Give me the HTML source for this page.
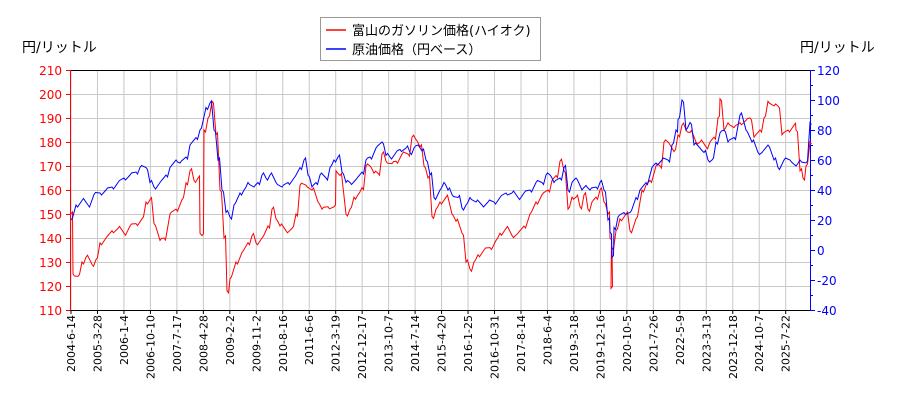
<!DOCTYPE html>
<html><head><meta charset="utf-8"><style>
body{margin:0;background:#fff;width:900px;height:400px;overflow:hidden}
text{font-family:"DejaVu Sans","Noto Sans CJK JP",sans-serif}
</style></head><body>
<svg id="s" width="900" height="400" xmlns="http://www.w3.org/2000/svg">
<g id="grid" stroke="#c8c8c8" stroke-width="1"></g>
<rect x="70.5" y="70.5" width="740" height="240" fill="none" stroke="#000"/>
<line x1="70.5" y1="70" x2="70.5" y2="311" stroke="red"/>
<line x1="810.5" y1="70" x2="810.5" y2="311" stroke="blue"/>
<g id="ax"></g>
<polyline id="red" fill="none" stroke="red" stroke-width="1"/>
<polyline id="blue" fill="none" stroke="blue" stroke-width="1"/>
<text x="22" y="52" font-size="14">円/リットル</text>
<text x="800" y="52" font-size="14">円/リットル</text>
<rect x="320.5" y="17.5" width="220" height="43" fill="#fff" stroke="#999"/>
<line x1="326" y1="30" x2="346" y2="30" stroke="red" stroke-width="1.5"/>
<line x1="326" y1="49" x2="346" y2="49" stroke="blue" stroke-width="1.5"/>
<text x="352" y="35" font-size="13">富山のガソリン価格(ハイオク)</text>
<text x="352" y="54" font-size="13">原油価格（円ベース）</text>
</svg>
<script>
const NS="http://www.w3.org/2000/svg";
function el(p,t,a,txt){const e=document.createElementNS(NS,t);for(const k in a)e.setAttribute(k,a[k]);if(txt!==undefined)e.textContent=String(txt);document.getElementById(p).appendChild(e);}
const labels=["2004-6-14","2005-3-28","2006-1-4","2006-10-10","2007-7-17","2008-4-28","2009-2-2","2009-11-2","2010-8-16","2011-6-6","2012-3-19","2012-12-17","2013-10-7","2014-7-14","2015-4-20","2016-1-25","2016-10-31","2017-8-14","2018-6-4","2019-3-18","2019-12-16","2020-10-5","2021-7-26","2022-5-9","2023-3-13","2023-12-18","2024-10-7","2025-7-22"];
labels.forEach((l,i)=>{const x=71+i*26.47;
 el("grid","line",{x1:x,y1:70,x2:x,y2:310});
 el("ax","line",{x1:x,y1:310,x2:x,y2:314,stroke:"#000"});
 el("ax","text",{x:0,y:0,"font-size":"11",transform:`translate(${x+4},${315}) rotate(-90)`,"text-anchor":"end"},l);});
for(let i=0;i<=10;i++){const y=310-i*24;
 el("grid","line",{x1:70,y1:y+0.5,x2:810,y2:y+0.5});
 el("ax","line",{x1:66,y1:y+0.5,x2:70,y2:y+0.5,stroke:"red"});
 el("ax","text",{x:62,y:y+5,"font-size":"12",fill:"red","text-anchor":"end"},110+i*10);}
for(let i=0;i<=16;i++){const y=310-i*15;const maj=i%2==0;
 el("ax","line",{x1:811,y1:y+0.5,x2:maj?815:813,y2:y+0.5,stroke:"blue"});
 if(maj)el("ax","text",{x:817,y:y+5,"font-size":"12",fill:"blue"},-40+i*10);}
const R=[71,150,73,125,78,124,82,130,86,132,92,129,96,131,100,138,106,140,112,143,118,144,124,142,130,145,136,146,142,148,146,155,150,156,154,146,160,139,164,140,170,150,176,152,182,156,186,163,190,168,194,164,198,165,200,142,202,141,204,185,208,190,212,197,216,183,220,160,224,140,227,118,230,123,236,130,242,134,248,138,252,141,256,138,262,140,268,145,272,152,276,148,280,145,286,143,292,144,296,150,300,162,306,162,312,160,318,155,322,152,328,153,334,153,336,168,340,166,346,150,350,152,354,157,358,158,362,161,366,170,370,170,374,167,378,167,382,175,386,172,392,171,396,172,402,175,408,175,412,182,416,181,420,178,424,170,428,165,432,149,436,152,440,155,446,157,452,150,456,147,462,142,466,130,470,127,474,130,478,133,484,135,490,136,496,139,500,142,506,144,512,141,518,142,524,145,530,150,536,155,542,158,548,160,552,164,556,166,560,172,564,168,568,152,572,157,576,157,580,153,584,158,588,152,592,155,596,157,600,160,604,155,608,150,610,140,611,119,612,136,616,143,620,148,626,150,630,143,636,148,642,160,646,162,650,164,656,170,660,170,664,180,668,180,674,176,678,183,682,187,686,185,690,184,696,180,700,180,706,178,710,180,714,182,718,190,720,198,724,185,728,188,734,186,740,188,746,189,750,190,754,182,760,185,764,190,768,197,774,195,778,195,782,183,788,185,794,187,796,185,800,168,803,165,806,170,810,180];
const B=[71,20,76,30,82,33,88,30,94,37,100,38,106,40,112,42,118,45,124,48,130,50,136,52,140,55,146,55,150,45,154,42,160,45,166,50,170,55,176,60,180,58,186,62,190,70,196,75,200,80,206,95,210,98,214,80,218,60,222,40,226,25,230,22,234,30,240,38,244,40,248,45,254,42,258,45,262,50,266,48,270,50,276,45,282,42,288,45,294,48,300,55,304,60,308,50,312,42,316,45,320,50,326,48,330,55,334,60,338,62,342,52,346,45,350,45,356,47,362,52,366,60,370,62,376,68,382,72,386,63,390,62,396,65,400,67,406,68,410,65,414,68,418,70,422,66,426,60,430,50,434,35,440,40,444,45,448,40,452,37,458,35,462,28,466,30,470,35,476,32,482,30,488,32,494,32,500,35,506,38,512,38,518,35,524,38,530,40,536,45,542,45,546,50,550,50,554,45,560,48,564,55,568,40,572,45,576,48,582,40,586,43,590,40,596,42,600,45,604,40,608,20,610,12,612,-5,614,15,618,22,624,25,630,25,636,35,640,40,646,45,652,55,656,58,662,60,668,60,672,70,676,80,678,87,682,100,686,80,690,85,694,70,700,68,704,65,708,60,712,60,716,72,720,78,724,80,728,72,734,75,740,90,746,80,752,72,758,65,762,65,768,70,774,60,778,55,784,60,790,60,796,56,800,60,806,58,810,85];
function pts(a,f){let s=[];for(let i=0;i<a.length;i+=2){const x=a[i];let v=a[i+1];
 const n=(i/2)%2?1:-1;s.push(x+","+f(v).toFixed(1));s.push((x+1.5)+","+(f(v)+n*2).toFixed(1));}return s.join(" ");}
document.getElementById("red").setAttribute("points",pts(R,v=>310-(v-110)*2.4));
document.getElementById("blue").setAttribute("points",pts(B,v=>310-(v+40)*1.5));
</script>
</body></html>
